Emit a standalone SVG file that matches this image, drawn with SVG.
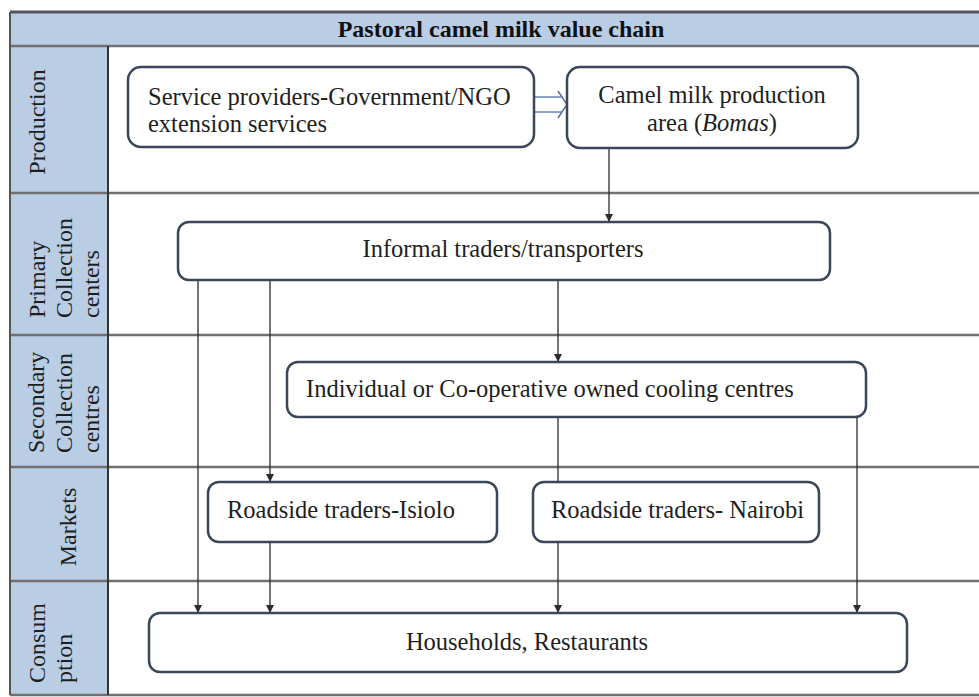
<svg xmlns="http://www.w3.org/2000/svg" width="979" height="697" viewBox="0 0 979 697">
<defs>
<marker id="ah" markerWidth="8" markerHeight="8" refX="7" refY="4" orient="auto" markerUnits="userSpaceOnUse">
<path d="M0,0 L8,4 L0,8 z" fill="#2b2b2b"/>
</marker>
</defs>
<style>
.box{fill:#fff;stroke:#3b4658;stroke-width:2.5}
.t{font-family:"Liberation Serif","Times New Roman",serif;font-size:24.5px;fill:#1e1e1e}
.lane{font-family:"Liberation Serif","Times New Roman",serif;font-size:24px;fill:#1e1e1e}
.title{font-family:"Liberation Serif","Times New Roman",serif;font-size:24px;font-weight:bold;fill:#111}
.sep{stroke:#707070;stroke-width:2.5}
.conn{stroke:#2b2b2b;stroke-width:1.3;fill:none}
</style>
<rect x="0" y="0" width="979" height="697" fill="#fff"/>
<g id="frame">
<rect x="10" y="12" width="969" height="34" fill="#b9cde5"/>
<rect x="10" y="46" width="98" height="649" fill="#b9cde5"/>
<line x1="10" y1="12" x2="979" y2="12" stroke="#555" stroke-width="3"/>
<line class="sep" x1="10" y1="46" x2="979" y2="46"/>
<line class="sep" x1="10" y1="193" x2="979" y2="193"/>
<line class="sep" x1="10" y1="335" x2="979" y2="335"/>
<line class="sep" x1="10" y1="467" x2="979" y2="467"/>
<line class="sep" x1="10" y1="581" x2="979" y2="581"/>
<line class="sep" x1="10" y1="695" x2="979" y2="695"/>
<line x1="10" y1="12" x2="10" y2="695" stroke="#555" stroke-width="2"/>
<line x1="108" y1="46" x2="108" y2="695" stroke="#333" stroke-width="2"/>
<text class="title" x="501" y="37" text-anchor="middle">Pastoral camel milk value chain</text>
</g>
<g id="lanes">
<text class="lane" transform="translate(45,122) rotate(-90)" text-anchor="middle">Production</text>
<g transform="translate(0,318)">
<text class="lane" transform="translate(45,0) rotate(-90)">Primary</text>
<text class="lane" transform="translate(72,0) rotate(-90)">Collection</text>
<text class="lane" transform="translate(99,0) rotate(-90)">centers</text>
</g>
<g transform="translate(0,453)">
<text class="lane" transform="translate(44,0) rotate(-90)">Secondary</text>
<text class="lane" transform="translate(72,0) rotate(-90)">Collection</text>
<text class="lane" transform="translate(99,0) rotate(-90)">centres</text>
</g>
<text class="lane" transform="translate(76,527) rotate(-90)" text-anchor="middle">Markets</text>
<g transform="translate(0,683)">
<text class="lane" transform="translate(45,0) rotate(-90)">Consum</text>
<text class="lane" transform="translate(72,0) rotate(-90)">ption</text>
</g>
</g>
<g id="connectors">
<line x1="534" y1="97" x2="562" y2="97" stroke="#8da3c4" stroke-width="2"/>
<line x1="534" y1="112" x2="562" y2="112" stroke="#8da3c4" stroke-width="2"/>
<path d="M558,91 L567,104.5 L558,118" stroke="#5a6f95" stroke-width="1.5" fill="none"/>
<line class="conn" x1="609" y1="148" x2="609" y2="221" marker-end="url(#ah)"/>
<line class="conn" x1="198" y1="280" x2="198" y2="612" marker-end="url(#ah)"/>
<line class="conn" x1="270" y1="280" x2="270" y2="481" marker-end="url(#ah)"/>
<line class="conn" x1="558" y1="280" x2="558" y2="361" marker-end="url(#ah)"/>
<line class="conn" x1="558" y1="417" x2="558" y2="482"/>
<line class="conn" x1="270" y1="542" x2="270" y2="612" marker-end="url(#ah)"/>
<line class="conn" x1="558" y1="542" x2="558" y2="612" marker-end="url(#ah)"/>
<line class="conn" x1="857" y1="417" x2="857" y2="612" marker-end="url(#ah)"/>
</g>
<g id="service-providers">
<rect class="box" x="128" y="67" width="406" height="80" rx="13"/>
<text class="t" x="148" y="105">Service providers-Government/NGO</text>
<text class="t" x="148" y="132">extension services</text>
</g>
<g id="camel-milk-production">
<rect class="box" x="567" y="67" width="291" height="81" rx="13"/>
<text class="t" x="712" y="103" text-anchor="middle">Camel milk production</text>
<text class="t" x="712" y="131" text-anchor="middle">area (<tspan font-style="italic">Bomas</tspan>)</text>
</g>
<g id="informal-traders">
<rect class="box" x="178" y="222" width="652" height="58" rx="11"/>
<text class="t" x="503" y="257" text-anchor="middle">Informal traders/transporters</text>
</g>
<g id="cooling-centres">
<rect class="box" x="287" y="362" width="579" height="55" rx="11"/>
<text class="t" x="306" y="397">Individual or Co-operative owned cooling centres</text>
</g>
<g id="roadside-isiolo">
<rect class="box" x="208" y="482" width="289" height="60" rx="11"/>
<text class="t" x="227" y="518">Roadside traders-Isiolo</text>
</g>
<g id="roadside-nairobi">
<rect class="box" x="533" y="482" width="286" height="60" rx="11"/>
<text class="t" x="551" y="518">Roadside traders- Nairobi</text>
</g>
<g id="households">
<rect class="box" x="149" y="613" width="758" height="59" rx="11"/>
<text class="t" x="527" y="650" text-anchor="middle">Households, Restaurants</text>
</g>
</svg>
